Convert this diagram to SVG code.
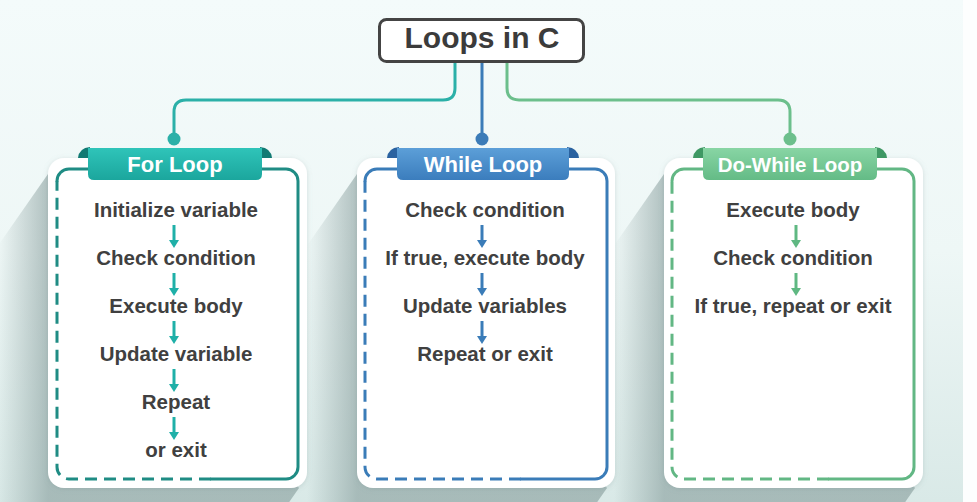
<svg xmlns="http://www.w3.org/2000/svg" width="977" height="502" viewBox="0 0 977 502">
<style>
.title{font-family:"Liberation Sans",Arial,sans-serif;font-weight:bold;font-size:30px;fill:#3b3b3b;text-anchor:middle}
.rib{font-family:"Liberation Sans",Arial,sans-serif;font-weight:bold;font-size:22px;fill:#ffffff;text-anchor:middle}
.step{font-family:"Liberation Sans",Arial,sans-serif;font-weight:bold;font-size:20.5px;fill:#404040;text-anchor:middle}
.card{fill:#ffffff;filter:url(#soft)}
.bd{fill:none;stroke-width:3;stroke-linecap:round}
.dash{stroke-dasharray:12 7;stroke-linecap:butt}
.conn{fill:none;stroke-width:3}
.teal{stroke:#1f8c84}.blue{stroke:#3a7cb8}.green{stroke:#62b784}
</style>
<defs>
<linearGradient id="bg" x1="0" y1="0" x2="0" y2="1">
<stop offset="0" stop-color="#f4fbfb"/><stop offset="0.5" stop-color="#eef7f6"/><stop offset="1" stop-color="#d9e9e7"/>
</linearGradient>
<linearGradient id="sh1" gradientUnits="userSpaceOnUse" x1="48" y1="0" x2="-2" y2="0">
<stop offset="0" stop-color="#7e9594" stop-opacity="0.55"/><stop offset="1" stop-color="#7e9594" stop-opacity="0"/>
</linearGradient>
<linearGradient id="sh2" gradientUnits="userSpaceOnUse" x1="357" y1="0" x2="307" y2="0">
<stop offset="0" stop-color="#7e9594" stop-opacity="0.55"/><stop offset="1" stop-color="#7e9594" stop-opacity="0"/>
</linearGradient>
<linearGradient id="sh3" gradientUnits="userSpaceOnUse" x1="664" y1="0" x2="614" y2="0">
<stop offset="0" stop-color="#7e9594" stop-opacity="0.55"/><stop offset="1" stop-color="#7e9594" stop-opacity="0"/>
</linearGradient>
<linearGradient id="rTeal" x1="0" y1="0" x2="0" y2="1"><stop offset="0" stop-color="#2fc4b9"/><stop offset="1" stop-color="#1ba69d"/></linearGradient>
<linearGradient id="rBlue" x1="0" y1="0" x2="0" y2="1"><stop offset="0" stop-color="#5c9fd8"/><stop offset="1" stop-color="#3b7dbd"/></linearGradient>
<linearGradient id="rGreen" x1="0" y1="0" x2="0" y2="1"><stop offset="0" stop-color="#88d5a4"/><stop offset="1" stop-color="#64bb86"/></linearGradient>
<filter id="soft" x="-10%" y="-10%" width="120%" height="120%">
<feDropShadow dx="0" dy="1" stdDeviation="2.5" flood-color="#6f8a88" flood-opacity="0.25"/>
</filter>
<marker id="aTeal" viewBox="0 0 8 10" refX="0" refY="5" markerWidth="8" markerHeight="10" markerUnits="userSpaceOnUse" orient="auto"><path d="M0,0 L8,5 L0,10 z" fill="#1fb0a8"/></marker>
<marker id="aBlue" viewBox="0 0 8 10" refX="0" refY="5" markerWidth="8" markerHeight="10" markerUnits="userSpaceOnUse" orient="auto"><path d="M0,0 L8,5 L0,10 z" fill="#3a7cb8"/></marker>
<marker id="aGreen" viewBox="0 0 8 10" refX="0" refY="5" markerWidth="8" markerHeight="10" markerUnits="userSpaceOnUse" orient="auto"><path d="M0,0 L8,5 L0,10 z" fill="#5fb882"/></marker>
</defs>

<rect x="0" y="0" width="977" height="502" fill="url(#bg)"/>
<rect x="963" y="0" width="14" height="502" fill="#fdfefe"/>

<g id="shadows">
<polygon points="48,174 299,488 -1,918 -252,604" fill="url(#sh1)"/>
<polygon points="357,174 607,488 307,918 57,604" fill="url(#sh2)"/>
<polygon points="664,174 915,488 615,918 364,604" fill="url(#sh3)"/>
</g>

<g id="connectors">
<path class="conn" stroke="#2bb0a8" d="M455,62 V88 Q455,100 443,100 H186 Q174,100 174,112 V139"/>
<circle cx="174" cy="139" r="6.5" fill="#2bb0a8"/>
<path class="conn" stroke="#3b7cb8" d="M482,62 V139"/>
<circle cx="482" cy="139" r="6.5" fill="#3b7cb8"/>
<path class="conn" stroke="#6cbf8c" d="M507,62 V88 Q507,100 519,100 H778 Q790,100 790,112 V139"/>
<circle cx="790" cy="139" r="6.5" fill="#6cbf8c"/>
</g>

<g id="title">
<rect x="379.5" y="19.5" width="204" height="42" rx="7" fill="#ffffff" stroke="#444444" stroke-width="3"/>
<text class="title" x="482" y="48">Loops in C</text>
</g>

<g id="for-loop">
<rect class="card" x="48" y="158" width="259" height="330" rx="16"/>
<path class="bd teal" d="M57,181 A12,12 0 0 1 69,169 H286 A12,12 0 0 1 298,181 V467 A12,12 0 0 1 286,479 H211"/>
<path class="bd teal dash" d="M211,479 H69 A12,12 0 0 1 57,467 V181"/>
<path d="M78,158 Q79,148 90,147 V158 Z" fill="#117a73"/>
<path d="M272,158 Q271,148 260,147 V158 Z" fill="#117a73"/>
<path d="M88,148 H262 V174 Q262,180 256,180 H94 Q88,180 88,174 Z" fill="url(#rTeal)"/>
<text class="rib" x="175" y="172">For Loop</text>
<text class="step" x="176" y="217">Initialize variable</text>
<text class="step" x="176" y="265">Check condition</text>
<text class="step" x="176" y="313">Execute body</text>
<text class="step" x="176" y="361">Update variable</text>
<text class="step" x="176" y="409">Repeat</text>
<text class="step" x="176" y="457">or exit</text>
</g>

<g id="while-loop">
<rect class="card" x="357" y="158" width="258" height="330" rx="16"/>
<path class="bd blue" d="M365,181 A12,12 0 0 1 377,169 H595 A12,12 0 0 1 607,181 V467 A12,12 0 0 1 595,479 H521"/>
<path class="bd blue dash" d="M521,479 H377 A12,12 0 0 1 365,467 V181"/>
<path d="M387,158 Q388,148 399,147 V158 Z" fill="#2a62a0"/>
<path d="M579,158 Q578,148 567,147 V158 Z" fill="#2a62a0"/>
<path d="M397,148 H569 V174 Q569,180 563,180 H403 Q397,180 397,174 Z" fill="url(#rBlue)"/>
<text class="rib" x="483" y="172">While Loop</text>
<text class="step" x="485" y="217">Check condition</text>
<text class="step" x="485" y="265">If true, execute body</text>
<text class="step" x="485" y="313">Update variables</text>
<text class="step" x="485" y="361">Repeat or exit</text>
</g>

<g id="do-while-loop">
<rect class="card" x="664" y="158" width="259" height="330" rx="16"/>
<path class="bd green" d="M672,181 A12,12 0 0 1 684,169 H902 A12,12 0 0 1 914,181 V467 A12,12 0 0 1 902,479 H829"/>
<path class="bd green dash" d="M829,479 H684 A12,12 0 0 1 672,467 V181"/>
<path d="M693,158 Q694,148 705,147 V158 Z" fill="#3f9864"/>
<path d="M887,158 Q886,148 875,147 V158 Z" fill="#3f9864"/>
<path d="M703,148 H877 V174 Q877,180 871,180 H709 Q703,180 703,174 Z" fill="url(#rGreen)"/>
<text class="rib" x="790" y="172" style="font-size:20.5px">Do-While Loop</text>
<text class="step" x="793" y="217">Execute body</text>
<text class="step" x="793" y="265">Check condition</text>
<text class="step" x="793" y="313">If true, repeat or exit</text>
</g>

<g id="step-arrows" fill="none" stroke-width="3">
<g stroke="#1fb0a8">
<path d="M174,225 V240" marker-end="url(#aTeal)"/>
<path d="M174,273 V288" marker-end="url(#aTeal)"/>
<path d="M174,321 V336" marker-end="url(#aTeal)"/>
<path d="M174,369 V384" marker-end="url(#aTeal)"/>
<path d="M174,417 V432" marker-end="url(#aTeal)"/>
</g>
<g stroke="#3a7cb8">
<path d="M482,225 V240" marker-end="url(#aBlue)"/>
<path d="M482,273 V288" marker-end="url(#aBlue)"/>
<path d="M482,321 V336" marker-end="url(#aBlue)"/>
</g>
<g stroke="#5fb882">
<path d="M796,225 V240" marker-end="url(#aGreen)"/>
<path d="M796,273 V288" marker-end="url(#aGreen)"/>
</g>
</g>
</svg>
